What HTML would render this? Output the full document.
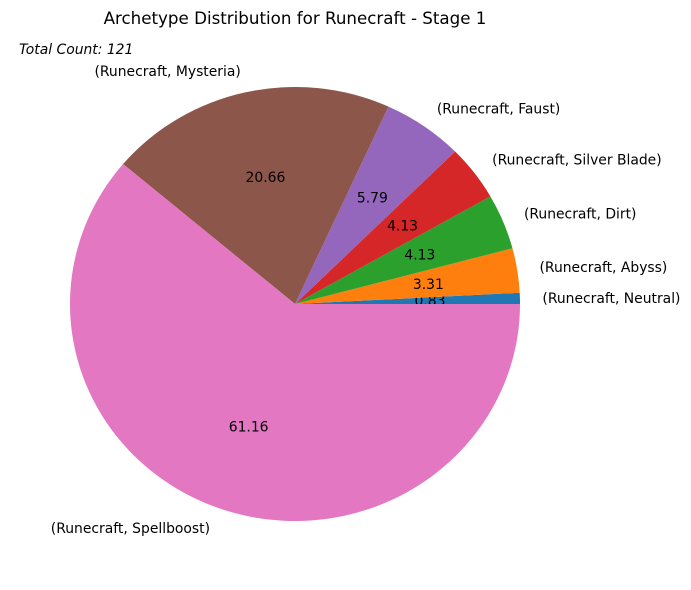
<!DOCTYPE html>
<html><head><meta charset="utf-8"><style>
html,body{margin:0;padding:0;background:#fff;}
svg{display:block;font-family:"DejaVu Sans","Liberation Sans",sans-serif;}
</style></head><body>
<svg id="chart" width="691" height="590" viewBox="0 0 691 590">
<rect width="691" height="590" fill="#fff"/>
<text x="295" y="24" text-anchor="middle" font-size="16.7">Archetype Distribution for Runecraft - Stage 1</text>
<text x="19" y="54" font-size="13.9" font-style="italic">Total Count: 121</text>
<g id="slices"></g>
</svg>
<script>
const categories = ["(Runecraft, Neutral)","(Runecraft, Abyss)","(Runecraft, Dirt)","(Runecraft, Silver Blade)","(Runecraft, Faust)","(Runecraft, Mysteria)","(Runecraft, Spellboost)"];
const counts = [1,4,5,5,7,25,74];
const colors = ["#1f77b4","#ff7f0e","#2ca02c","#d62728","#9467bd","#8c564b","#e377c2"];
const cx=295, cy=304, RX=225, RY=217;
const g=document.getElementById('slices');
const NS="http://www.w3.org/2000/svg";
const total=counts.reduce((a,b)=>a+b,0);
let a0=0;
function pt(a,f){return [cx+f*RX*Math.cos(a), cy-f*RY*Math.sin(a)];}
counts.forEach((v,i)=>{
  const a1=a0+v/total*2*Math.PI;
  const p0=pt(a0,1), p1=pt(a1,1);
  const large=(a1-a0)>Math.PI?1:0;
  const path=document.createElementNS(NS,'path');
  path.setAttribute('d',`M${cx},${cy} L${p0[0]},${p0[1]} A${RX},${RY} 0 ${large} 0 ${p1[0]},${p1[1]} Z`);
  path.setAttribute('fill',colors[i]);
  
  
  g.appendChild(path);
  const am=(a0+a1)/2;
  const lp=pt(am,1.1);
  const t=document.createElementNS(NS,'text');
  t.setAttribute('x',lp[0]); t.setAttribute('y',lp[1]+5);
  t.setAttribute('font-size','13.9');
  t.setAttribute('text-anchor',Math.cos(am)>=0?'start':'end');
  t.textContent=categories[i];
  
  
  g.appendChild(t);
  const pp=pt(am,0.6);
  const t2=document.createElementNS(NS,'text');
  t2.setAttribute('x',pp[0]); t2.setAttribute('y',pp[1]+5);
  t2.setAttribute('font-size','13.9');
  t2.setAttribute('text-anchor','middle');
  t2.textContent=(v/total*100).toFixed(2);
  
  
  g.appendChild(t2);
  a0=a1;
});
</script>
</body></html>
